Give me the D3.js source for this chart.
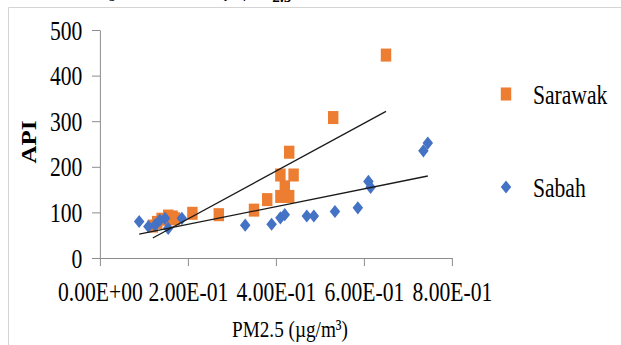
<!DOCTYPE html>
<html>
<head>
<meta charset="utf-8">
<script src="https://cdn.jsdelivr.net/npm/d3@7"></script>
<style>
  html, body { margin: 0; padding: 0; background: #fff; }
  svg { display: block; }
</style>
</head>
<body>
<div id="chart"></div>
<script>
// values
const seriesNames = ["Sarawak", "Sabah"];
const sarawakPM = [0.12, 0.13, 0.14, 0.155, 0.165, 0.17, 0.21, 0.27, 0.35, 0.38, 0.41, 0.43, 0.42, 0.41, 0.44, 0.43, 0.53, 0.65];
const sarawakAPI = [70, 78, 85, 92, 90, 86, 98, 95, 105, 128, 135, 135, 156, 182, 182, 232, 308, 445];
const sabahPM = [0.089, 0.11, 0.125, 0.136, 0.148, 0.155, 0.186, 0.33, 0.39, 0.41, 0.42, 0.47, 0.486, 0.534, 0.586, 0.61, 0.615, 0.735, 0.745];
const sabahAPI = [80, 69, 72, 83, 87, 65, 87, 72, 74, 88, 95, 92, 92, 102, 110, 168, 155, 235, 252];
const xTicks = [0, 0.2, 0.4, 0.6, 0.8];
const yTicks = [0, 100, 200, 300, 400, 500];

const size = { width: 621, height: 345 };
const sx = 0.8; // the original picture is squeezed sideways
const serif = "'Liberation Serif', 'Times New Roman', serif";
const colors = { Sarawak: "#ED7D31", Sabah: "#4472C4" };

const series = [
  { name: "Sarawak", values: sarawakPM.map((d, i) => ({ x: d, y: sarawakAPI[i] })) },
  { name: "Sabah", values: sabahPM.map((d, i) => ({ x: d, y: sabahAPI[i] })) },
];

const svg = d3.select("#chart").append("svg")
  .attr("width", size.width)
  .attr("height", size.height);

// chart frame (only top and left edge are in view)
svg.append("path")
  .attr("d", `M8.5,${size.height} V7.5 H${size.width}`)
  .attr("fill", "none")
  .attr("stroke", "#d4d4d4");

// caption, mostly above the top edge as in the source
svg.append("text")
  .attr("x", 290)
  .attr("y", -2)
  .attr("text-anchor", "middle")
  .style("font-family", serif)
  .style("font-style", "italic")
  .style("font-size", "15px")
  .html("Figure 4: Relationship of PM<tspan dy='4' font-weight='bold'>2.5</tspan><tspan dy='-4'> and API in Sarawak and Sabah</tspan>");

const root = svg.append("g").attr("transform", `scale(${sx},1)`);

const x = d3.scaleLinear().domain([0, 0.8]).range([100 / sx, 452 / sx]);
const y = d3.scaleLinear().domain([0, 500]).range([258, 30]);

const expFmt = (d) => {
  const [m, e] = d.toExponential(2).split("e");
  const n = Math.abs(+e);
  return m + "E" + (+e < 0 ? "-" : "+") + (n < 10 ? "0" : "") + n;
};

const yAxis = root.append("g")
  .attr("transform", `translate(${x(0)},0)`)
  .call(d3.axisLeft(y).tickValues(yTicks).tickSize(10).tickSizeOuter(0).tickPadding(12));

const xAxis = root.append("g")
  .attr("transform", `translate(0,${y(0)})`)
  .call(d3.axisBottom(x).tickValues(xTicks).tickSize(8).tickSizeOuter(0).tickFormat(expFmt));

[yAxis, xAxis].forEach((ax) => {
  ax.selectAll("path, line")
    .attr("stroke", "#8c8c8c")
    .attr("vector-effect", "non-scaling-stroke");
  ax.selectAll("text")
    .attr("fill", "#000")
    .style("font-family", serif)
    .style("font-size", "27px");
});
xAxis.selectAll("text").attr("y", 43).attr("dy", 0);
yAxis.selectAll("text").attr("dy", "0.34em");

// axis titles
root.append("text")
  .attr("x", 290 / sx)
  .attr("y", 337)
  .attr("text-anchor", "middle")
  .style("font-family", serif)
  .style("font-size", "24px")
  .text("PM2.5 (µg/m³)");

root.append("text")
  .attr("transform", `translate(${36 / sx},142) rotate(-90)`)
  .attr("text-anchor", "middle")
  .style("font-family", serif)
  .style("font-size", "25px")
  .style("font-weight", "bold")
  .text("API");

// markers
const markSquare = d3.symbol(d3.symbolSquare, 170);
const markDiamond = d3.symbol(d3.symbolSquare, 86);
const markFor = (name) => (name === "Sarawak" ? markSquare() : markDiamond());
const rot = (name) => (name === "Sabah" ? " rotate(45)" : "");

root.append("g")
  .selectAll("g")
  .data(series)
  .join("g")
  .attr("fill", (d) => colors[d.name])
  .selectAll("path")
  .data((d) => d.values.map((v) => ({ ...v, name: d.name })))
  .join("path")
  .attr("d", (d) => markFor(d.name))
  .attr("transform", (d) => `translate(${x(d.x)},${y(d.y)})${rot(d.name)}`);

// linear trendlines (least squares over each series' range)
const fit = (vals) => {
  const mx = d3.mean(vals, (d) => d.x);
  const my = d3.mean(vals, (d) => d.y);
  const b = d3.sum(vals, (d) => (d.x - mx) * (d.y - my)) / d3.sum(vals, (d) => (d.x - mx) ** 2);
  const a = my - b * mx;
  const [x0, x1] = d3.extent(vals, (d) => d.x);
  return [{ x: x0, y: a + b * x0 }, { x: x1, y: a + b * x1 }];
};

root.append("g")
  .selectAll("path")
  .data(series)
  .join("path")
  .attr("d", (d) => d3.line().x((p) => x(p.x)).y((p) => y(p.y))(fit(d.values)))
  .attr("fill", "none")
  .attr("stroke", "#1a1a1a")
  .attr("stroke-width", 1.3)
  .attr("vector-effect", "non-scaling-stroke");

// legend
const legend = root.append("g")
  .selectAll("g")
  .data(seriesNames)
  .join("g")
  .attr("transform", (d, i) => `translate(${506 / sx},${94 + i * 93})`);

legend.append("path")
  .attr("d", (d) => markFor(d))
  .attr("transform", (d) => (d === "Sabah" ? "rotate(45)" : ""))
  .attr("fill", (d) => colors[d]);

legend.append("text")
  .attr("x", 27 / sx)
  .attr("y", 10)
  .style("font-family", serif)
  .style("font-size", "27px")
  .text((d) => d);
</script>
</body>
</html>
